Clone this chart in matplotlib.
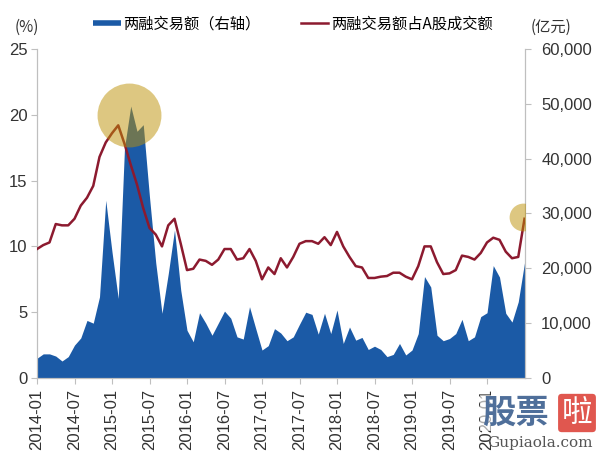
import matplotlib
matplotlib.use("Agg")
import matplotlib.pyplot as plt
from matplotlib.lines import Line2D
from matplotlib.ticker import FuncFormatter
import numpy as np

# monthly data, 2014-01 .. 2020-07
months = [f"{y}-{m:02d}" for y in range(2014, 2021) for m in range(1, 13)][:79]

# 两融交易额 (亿元, right axis)
turnover = [3600, 4400, 4400, 4000, 3100, 3900, 6000, 7300, 10500, 10000,
            14800, 32400, 23000, 14500, 42000, 49600, 45000, 46200, 33000, 21000,
            11800, 19000, 27000, 16000, 8700, 6600, 11900, 10000, 7800, 10000,
            12200, 10900, 7500, 7100, 13000, 9000, 5100, 5900, 9000, 8200,
            6800, 7500, 9800, 12000, 11600, 8000, 11800, 8100, 12400, 6300,
            9300, 6900, 7400, 5200, 5800, 5200, 3900, 4300, 6300, 4200,
            5100, 8100, 18500, 16600, 7800, 6800, 7200, 8100, 10700, 6800,
            7500, 11200, 11900, 20500, 18400, 11800, 10200, 13900, 21000]

# 两融交易额占A股成交额 (%, left axis)
share = [9.8, 10.1, 10.3, 11.7, 11.6, 11.6, 12.1, 13.1, 13.7, 14.6,
         16.8, 17.9, 18.6, 19.2, 17.8, 16.2, 14.7, 12.9, 11.4, 10.9,
         10.0, 11.6, 12.1, 10.2, 8.2, 8.3, 9.0, 8.9, 8.6, 9.0,
         9.8, 9.8, 9.0, 9.1, 9.8, 8.9, 7.5, 8.4, 7.9, 9.1,
         8.4, 9.2, 10.2, 10.4, 10.4, 10.2, 10.7, 10.1, 11.1, 10.0,
         9.2, 8.5, 8.4, 7.6, 7.6, 7.7, 7.75, 8.0, 8.0, 7.7,
         7.5, 8.5, 10.0, 10.0, 8.8, 7.9, 7.95, 8.2, 9.3, 9.2,
         9.0, 9.5, 10.3, 10.66, 10.5, 9.6, 9.1, 9.2, 12.1]

# highlight circles (month index, % value)
hl_x = [14.7, 77.7]
hl_y = [20.0, 12.2]
hl_size = [46, 20]

blue = "#1b5aa6"
red = "#8c1a2f"
grey = "#bfbfbf"
txt = "#333333"
cjk = ["Noto Sans CJK SC", "DejaVu Sans"]

plt.rcParams["font.family"] = ["Liberation Sans", "DejaVu Sans"]

fig = plt.figure(figsize=(6.0, 4.54), dpi=100)
ax = fig.add_axes([37 / 600, 1 - 378 / 454, (524.5 - 37) / 600, (378 - 49) / 454])
ax2 = ax.twinx()

x = np.arange(len(months))
ax2.fill_between(x, turnover, color=blue, lw=0)
ax.plot(x, share, color=red, lw=1.8, zorder=3)
for cx, cy, s in zip(hl_x, hl_y, hl_size):
    ax.plot(cx, cy, "o", ms=s, color="#bd9105", alpha=0.5, mec="none", zorder=5)

ax.set_zorder(ax2.get_zorder() + 1)
ax.patch.set_visible(False)

ax.set_xlim(0, 78)
ax.set_ylim(0, 25)
ax2.set_ylim(0, 60000)
ax.set_yticks(range(0, 26, 5))
ax2.set_yticks(range(0, 60001, 10000))
ax2.yaxis.set_major_formatter(FuncFormatter(lambda v, p: f"{int(v):,}"))
ax.set_xticks(x[:73:6])
ax.set_xticklabels(months[:73:6], rotation=90)

for a in (ax, ax2):
    a.spines["top"].set_visible(False)
    for s in ("left", "right", "bottom"):
        a.spines[s].set_color(grey)
    a.tick_params(colors=grey, labelcolor=txt, labelsize=12, length=4)
ax.tick_params(axis="y", pad=3)
ax2.tick_params(axis="y", pad=8)

handles = [Line2D([], [], color=blue, lw=4, solid_capstyle="butt"),
           Line2D([], [], color=red, lw=1.8)]
labels = ["两融交易额（右轴）", "两融交易额占A股成交额"]
fig.legend(handles, labels, loc="center left", bbox_to_anchor=(93 / 600, 1 - 24 / 454),
           ncol=2, frameon=False, borderpad=0, borderaxespad=0, handlelength=1.8,
           handletextpad=0.2, columnspacing=2.6, prop={"family": cjk, "size": 11})

fig.text(27 / 600, 1 - 27 / 454, "(%)", ha="center", va="center",
         family=cjk, fontsize=11, color=txt)
fig.text(551 / 600, 1 - 27 / 454, "(亿元)", ha="center", va="center",
         family=cjk, fontsize=11, color=txt)

# watermark (sits on top of the last tick label, as in the source image)
fig.text(515 / 600, 1 - 413 / 454, "股票", ha="center", va="center",
         family=cjk, fontsize=24, fontweight="bold", color="#4f6f9a",
         bbox=dict(boxstyle="square,pad=0.05", fc="white", ec="none", alpha=0.6))
fig.text(577 / 600, 1 - 413 / 454, "啦", ha="center", va="center",
         family=cjk, fontsize=22, color="white",
         bbox=dict(boxstyle="round,pad=0.12", fc="#e0574f", ec="none"))
fig.text(540 / 600, 1 - 443 / 454, "Gupiaola.com", ha="center", va="center",
         family=["DejaVu Serif"], fontsize=11, color="#555555")

fig.savefig("out.png", dpi=100)
